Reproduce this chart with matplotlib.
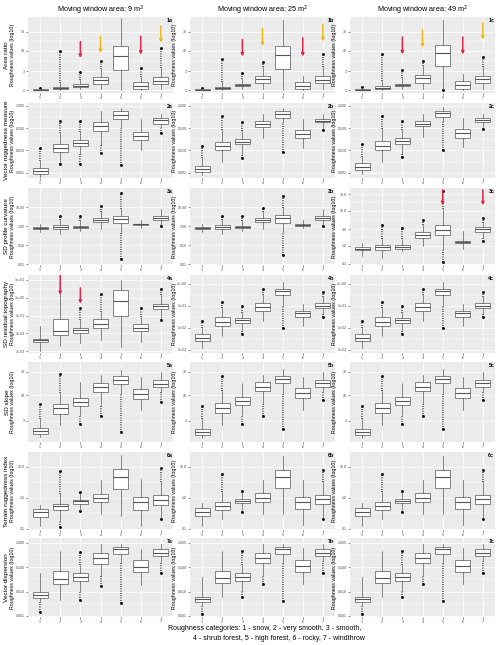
import numpy as np
import matplotlib
matplotlib.use('Agg')
import matplotlib.pyplot as plt

plt.rcParams['font.family'] = ['Liberation Sans', 'DejaVu Sans']

nan = np.nan
categories = [1, 2, 3, 4, 5, 6, 7]

# per box: whisker low, q1, median, q3, whisker high, lowest outlier, highest outlier
area_9 = [(1.0, 1.0, 1.02, 1.05, 1.1, nan, 1.15), (1.0, 1.06, 1.12, 1.2, 1.5, nan, 9.5),
          (1.05, 1.2, 1.3, 1.4, 1.8, nan, 2.8), (1.1, 1.4, 1.85, 2.1, 3.5, nan, 5.3),
          (1.0, 3.3, 7.2, 12.9, 65, nan, nan), (1.0, 1.1, 1.29, 1.57, 2.1, nan, 3.6),
          (1.1, 1.43, 1.73, 2.1, 3.6, nan, 11.7)]
area_25 = [(1.0, 1.0, 1.02, 1.05, 1.1, nan, 1.15), (1.0, 1.07, 1.14, 1.22, 1.6, nan, 6.0),
           (1.05, 1.25, 1.35, 1.45, 1.9, nan, 2.7), (1.1, 1.5, 1.9, 2.3, 3.8, nan, 5.0),
           (1.0, 3.5, 7.5, 13, 60, nan, nan), (1.0, 1.1, 1.3, 1.6, 2.3, nan, nan),
           (1.1, 1.5, 1.85, 2.25, 3.8, nan, 8.0)]
area_49 = [(1.0, 1.0, 1.03, 1.06, 1.12, nan, 1.2), (1.0, 1.08, 1.15, 1.25, 1.7, nan, 8.0),
           (1.05, 1.25, 1.35, 1.45, 2.0, nan, 3.2), (1.1, 1.55, 2.0, 2.4, 4.0, nan, 5.5),
           (1.05, 4.0, 8.5, 14, 60, 1.0, nan), (1.0, 1.1, 1.35, 1.7, 2.5, nan, nan),
           (1.1, 1.55, 1.9, 2.3, 3.8, nan, 7.0)]

vrm_9 = [(0.00065, 0.0009, 0.00123, 0.00166, 0.0035, nan, 0.0123), (0.003, 0.0087, 0.0135, 0.02, 0.058, 0.0024, 0.21),
         (0.0066, 0.0158, 0.0222, 0.031, 0.068, 0.0024, 0.21), (0.017, 0.073, 0.127, 0.19, 0.58, 0.008, nan),
         (0.097, 0.27, 0.41, 0.58, 0.81, 0.0022, nan), (0.0104, 0.029, 0.044, 0.068, 0.27, nan, nan),
         (0.114, 0.16, 0.23, 0.29, 0.45, 0.062, nan)]
vrm_25 = [(0.0008, 0.0011, 0.0015, 0.0021, 0.0044, nan, 0.0163), (0.0029, 0.0107, 0.0154, 0.025, 0.085, nan, 0.37),
          (0.006, 0.019, 0.025, 0.034, 0.077, 0.0045, 0.19), (0.037, 0.11, 0.15, 0.2, 0.44, nan, nan),
          (0.19, 0.3, 0.44, 0.57, 0.8, 0.0085, nan), (0.0126, 0.035, 0.055, 0.085, 0.27, nan, nan),
          (0.107, 0.18, 0.22, 0.27, 0.44, 0.085, nan)]
vrm_49 = [(0.0009, 0.0013, 0.0018, 0.0026, 0.005, nan, 0.02), (0.003, 0.011, 0.016, 0.026, 0.09, nan, 0.35),
          (0.007, 0.02, 0.026, 0.035, 0.08, 0.005, 0.2), (0.04, 0.12, 0.16, 0.21, 0.45, nan, nan),
          (0.2, 0.32, 0.46, 0.6, 0.85, 0.01, nan), (0.014, 0.038, 0.06, 0.09, 0.28, nan, nan),
          (0.11, 0.19, 0.23, 0.28, 0.45, 0.09, nan)]

curv_9 = [(0.5, 0.74, 0.82, 0.93, 1.36, nan, nan), (0.38, 0.68, 0.86, 1.12, 2.15, nan, 3.2),
          (0.56, 0.79, 0.93, 1.04, 1.8, nan, 3.4), (0.68, 1.58, 2.07, 2.6, 5.6, nan, 10.8),
          (0.46, 1.47, 2.4, 3.5, 8.3, 0.018, 56), (0.76, 1.08, 1.21, 1.36, 2.15, nan, nan),
          (1.2, 2.15, 2.7, 3.4, 8.3, 1.0, nan)]
curv_25 = [(0.5, 0.72, 0.8, 0.9, 1.3, nan, nan), (0.4, 0.68, 0.85, 1.1, 2.0, nan, 3.5),
           (0.55, 0.8, 0.92, 1.05, 1.8, nan, 3.2), (0.7, 1.6, 2.1, 2.7, 5.5, nan, 9.0),
           (0.5, 1.5, 2.5, 3.6, 8.5, 0.03, 40), (0.75, 1.05, 1.2, 1.35, 2.1, nan, nan),
           (1.2, 2.1, 2.6, 3.3, 7.5, 1.0, nan)]
curv_49 = [(0.52, 0.76, 0.82, 0.9, 1.19, nan, nan), (0.45, 0.76, 0.9, 1.04, 1.54, nan, 3.8),
           (0.7, 0.81, 0.94, 1.04, 1.54, nan, 3.3), (1.0, 1.71, 2.03, 2.47, 4.0, nan, 5.6),
           (0.8, 2.03, 2.8, 3.9, 11.4, 0.34, 38), (0.8, 1.16, 1.27, 1.38, 2.6, nan, nan),
           (1.7, 2.47, 2.93, 3.4, 4.5, 1.38, 6.2)]

resid_9 = [(0.001, 0.0032, 0.0041, 0.0052, 0.025, nan, nan), (0.002, 0.0078, 0.013, 0.068, 10, nan, nan),
           (0.0028, 0.01, 0.015, 0.021, 0.06, nan, 0.28), (0.0041, 0.0215, 0.036, 0.068, 0.17, nan, 1.67),
           (0.0017, 0.1, 0.68, 2.8, 10, nan, nan), (0.0032, 0.013, 0.021, 0.032, 0.088, nan, 0.28),
           (0.077, 0.25, 0.36, 0.47, 1.47, 0.06, 3.2)]
resid_25 = [(0.0012, 0.0025, 0.0035, 0.005, 0.01, nan, 0.02), (0.004, 0.012, 0.018, 0.03, 0.08, nan, 0.15),
            (0.008, 0.017, 0.022, 0.028, 0.045, 0.005, 0.1), (0.02, 0.06, 0.09, 0.13, 0.3, nan, 0.6),
            (0.1, 0.3, 0.45, 0.6, 1.2, 0.01, nan), (0.012, 0.03, 0.045, 0.06, 0.12, nan, nan),
            (0.04, 0.08, 0.1, 0.13, 0.25, 0.03, 0.4)]
resid_49 = [(0.0012, 0.0025, 0.0035, 0.005, 0.01, nan, 0.02), (0.004, 0.012, 0.018, 0.03, 0.08, nan, 0.15),
            (0.008, 0.017, 0.022, 0.028, 0.045, 0.005, 0.1), (0.02, 0.06, 0.09, 0.13, 0.3, nan, 0.6),
            (0.1, 0.3, 0.45, 0.6, 1.2, 0.01, nan), (0.012, 0.03, 0.045, 0.06, 0.12, nan, nan),
            (0.04, 0.08, 0.1, 0.13, 0.25, 0.03, 0.4)]

slope_9 = [(1.37, 1.6, 1.84, 2.09, 3.3, nan, 6.5), (2.4, 4.2, 5.35, 6.76, 11.2, nan, 27.7),
           (3.9, 6.0, 7.3, 8.8, 18.7, 2.6, nan), (6.2, 11.7, 14.8, 18.2, 25.6, 3.7, nan),
           (10.8, 17.3, 21, 24.4, 33.4, 1.8, nan), (4.9, 8.5, 10.8, 13.7, 23.7, nan, nan),
           (11.7, 14.8, 17.3, 20.4, 30, 7.3, nan)]
slope_25 = [(1.3, 1.5, 1.75, 2.0, 3.2, nan, 6.0), (2.4, 4.3, 5.5, 7.0, 12, nan, 25),
            (3.9, 6.2, 7.5, 9.0, 18, 2.6, nan), (6.5, 12, 15, 18.5, 26, 3.7, nan),
            (11, 17.5, 21.5, 25, 34, 2.0, nan), (5.0, 8.7, 11, 14, 24, nan, nan),
            (12, 15, 17.5, 20.5, 30, 8.0, nan)]
slope_49 = [(1.3, 1.5, 1.75, 2.0, 3.2, nan, 6.0), (2.4, 4.3, 5.5, 7.0, 12, nan, 25),
            (3.9, 6.2, 7.5, 9.0, 18, 2.6, nan), (6.5, 12, 15, 18.5, 26, 3.7, nan),
            (11, 17.5, 21.5, 25, 34, 2.0, nan), (5.0, 8.7, 11, 14, 24, nan, nan),
            (12, 15, 17.5, 20.5, 30, 8.0, nan)]

tri_9 = [(0.117, 0.23, 0.34, 0.44, 0.59, nan, nan), (0.18, 0.39, 0.52, 0.64, 1.35, 0.116, 7.4),
         (0.39, 0.64, 0.76, 0.86, 1.35, 0.36, 1.5), (0.3, 0.72, 0.98, 1.35, 3.67, nan, nan),
         (0.26, 1.97, 4.5, 8.2, 24, nan, nan), (0.125, 0.41, 0.7, 1.05, 3.9, nan, nan),
         (0.22, 0.6, 0.86, 1.19, 3.2, 0.2, 8.8)]
tri_25 = [(0.12, 0.25, 0.35, 0.45, 0.65, nan, nan), (0.2, 0.4, 0.55, 0.7, 1.5, nan, 6.0),
          (0.4, 0.65, 0.78, 0.9, 1.4, 0.35, 1.6), (0.3, 0.75, 1.0, 1.4, 3.8, nan, nan),
          (0.3, 2.0, 4.5, 8.0, 22, nan, nan), (0.13, 0.42, 0.7, 1.05, 3.8, nan, nan),
          (0.22, 0.62, 0.9, 1.2, 3.3, 0.2, 8.0)]
tri_49 = [(0.12, 0.25, 0.35, 0.45, 0.65, nan, nan), (0.2, 0.4, 0.55, 0.7, 1.5, nan, 6.0),
          (0.4, 0.65, 0.78, 0.9, 1.4, 0.35, 1.6), (0.3, 0.75, 1.0, 1.4, 3.8, nan, nan),
          (0.3, 2.0, 4.5, 8.0, 22, nan, nan), (0.13, 0.42, 0.7, 1.05, 3.8, nan, nan),
          (0.22, 0.62, 0.9, 1.2, 3.3, 0.2, 8.0)]

vd_9 = [(0.0041, 0.0055, 0.0073, 0.0098, 0.057, 0.0014, nan), (0.0047, 0.0205, 0.033, 0.067, 0.47, nan, nan),
        (0.0104, 0.026, 0.039, 0.057, 0.124, 0.0047, 0.43), (0.044, 0.137, 0.23, 0.37, 0.88, 0.0165, nan),
        (0.145, 0.34, 0.54, 0.69, 0.88, 0.0035, nan), (0.019, 0.061, 0.1, 0.19, 0.59, nan, nan),
        (0.17, 0.29, 0.39, 0.54, 0.88, 0.057, nan)]
vd_25 = [(0.0028, 0.0036, 0.0048, 0.0062, 0.04, 0.0012, nan), (0.006, 0.022, 0.035, 0.07, 0.45, nan, nan),
         (0.011, 0.028, 0.04, 0.058, 0.13, 0.006, 0.45), (0.05, 0.15, 0.25, 0.38, 0.9, 0.02, nan),
         (0.15, 0.35, 0.55, 0.7, 0.9, 0.004, nan), (0.02, 0.065, 0.11, 0.2, 0.6, nan, nan),
         (0.18, 0.3, 0.4, 0.55, 0.9, 0.06, nan)]
vd_49 = [(0.0028, 0.0036, 0.0048, 0.0062, 0.04, 0.0012, nan), (0.006, 0.022, 0.035, 0.07, 0.45, nan, nan),
         (0.011, 0.028, 0.04, 0.058, 0.13, 0.006, 0.45), (0.05, 0.15, 0.25, 0.38, 0.9, 0.02, nan),
         (0.15, 0.35, 0.55, 0.7, 0.9, 0.004, nan), (0.02, 0.065, 0.11, 0.2, 0.6, nan, nan),
         (0.18, 0.3, 0.4, 0.55, 0.9, 0.06, nan)]

row_names = ['Area ratio', 'Vector ruggedness measure', 'SD profile curvature', 'SD residual topography',
             'SD slope', 'Terrain ruggedness index', 'Vector dispersion']
col_titles = ['Moving window area: 9 m$^2$', 'Moving window area: 25 m$^2$', 'Moving window area: 49 m$^2$']
panels = [[area_9, area_25, area_49], [vrm_9, vrm_25, vrm_49], [curv_9, curv_25, curv_49],
          [resid_9, resid_25, resid_49], [slope_9, slope_25, slope_49], [tri_9, tri_25, tri_49],
          [vd_9, vd_25, vd_49]]

# y axis breaks per panel
ticks = {
    0: [1, 3, 10, 30], 1: [0.001, 0.01, 0.1, 1], 2: [0.01, 0.1, 1, 10],
    4: [3, 10, 30], 5: [0.1, 1, 10], 6: [0.001, 0.01, 0.1, 1]}
labels = {
    0: ['1', '3', '10', '30'], 1: ['0.001', '0.010', '0.100', '1.000'], 2: ['0.01', '0.10', '1.00', '10.00'],
    4: ['3', '10', '30'], 5: ['0.1', '1.0', '10.0'], 6: ['0.001', '0.010', '0.100', '1.000']}
ylims = {0: (0.85, 70), 1: (0.00058, 1.35), 2: (0.009, 100), 4: (1.1, 48), 5: (0.09, 30), 6: (0.0009, 1.6)}
ticks_3c = [0.3, 1, 3, 10, 30]
labels_3c = ['0.3', '1.0', '3.0', '10.0', '30.0']
ticks_4a = [0.001, 0.01, 0.1, 1, 10]
labels_4a = ['1e-03', '1e-02', '1e-01', '1e+00', '1e+01']
ticks_4bc = [0.001, 0.01, 0.1, 1]
labels_4bc = ['1e-03', '1e-02', '1e-01', '1e+00']

# arrows: row, col, category, start, end, colour
arrows = [(0, 0, 3, 16.7, 6.5, 'red'), (0, 0, 4, 23, 8.7, 'gold'), (0, 0, 6, 23, 7.9, 'red'), (0, 0, 7, 42, 15.7, 'gold'),
          (0, 1, 3, 19, 7.1, 'red'), (0, 1, 4, 36, 13, 'gold'), (0, 1, 6, 21, 7.1, 'red'), (0, 1, 7, 46, 17, 'gold'),
          (0, 2, 3, 22, 8, 'red'), (0, 2, 4, 33, 12, 'gold'), (0, 2, 6, 22, 8, 'red'), (0, 2, 7, 50, 19, 'gold'),
          (2, 2, 5, 40, 14.5, 'red'), (2, 2, 7, 40, 14.5, 'red'),
          (3, 0, 2, 18, 1.45, 'red'), (3, 0, 3, 3.6, 0.47, 'red')]
arrow_colors = {'red': '#E0244A', 'gold': '#F2B50F'}

fig = plt.figure(figsize=(5.0, 6.45), dpi=100)
W, H = 500.0, 645.0
col_left = [28, 190, 350]
col_width = 145
row_top = [17, 103, 188, 275, 362, 452, 538]
row_bottom = [93, 178, 265, 353, 442, 530, 617]

for r in range(7):
    for c in range(3):
        ax = fig.add_axes([col_left[c] / W, 1 - row_bottom[r] / H, col_width / W,
                           (row_bottom[r] - row_top[r]) / H])
        ax.set_facecolor('#EBEBEB')
        data = panels[r][c]
        stats = []
        for d in data:
            stats.append(dict(whislo=d[0], q1=d[1], med=d[2], q3=d[3], whishi=d[4], fliers=[]))
        ax.set_yscale('log')
        for i, d in enumerate(data):
            x = categories[i]
            if not np.isnan(d[6]):
                ax.vlines(x, d[4], d[6], colors='#111111', linewidth=1.1, linestyles=(0, (0.5, 1.0)), zorder=2)
                ax.plot([x], [d[6]], 'o', ms=1.1, color='#111111', zorder=2)
            if not np.isnan(d[5]):
                ax.vlines(x, d[5], d[0], colors='#111111', linewidth=1.1, linestyles=(0, (0.5, 1.0)), zorder=2)
                ax.plot([x], [d[5]], 'o', ms=1.1, color='#111111', zorder=2)
        ax.bxp(stats, positions=categories, widths=0.75, patch_artist=True, showfliers=False, showcaps=False,
               boxprops=dict(facecolor='white', edgecolor='#555555', linewidth=0.5),
               medianprops=dict(color='#555555', linewidth=0.8),
               whiskerprops=dict(color='#555555', linewidth=0.5), zorder=3)

        if r == 2 and c == 2:
            tk, lb, yl = ticks_3c, labels_3c, (0.28, 45)
        elif r == 3 and c == 0:
            tk, lb, yl = ticks_4a, labels_4a, (0.0008, 19)
        elif r == 3:
            tk, lb, yl = ticks_4bc, labels_4bc, (0.0007, 2.5)
        else:
            tk, lb, yl = ticks[r], labels[r], ylims[r]
        ax.set_yticks(tk)
        ax.set_yticklabels(lb)
        minor = [np.sqrt(tk[i] * tk[i + 1]) for i in range(len(tk) - 1)]
        ax.set_yticks(minor, minor=True)
        ax.set_ylim(yl)
        ax.set_xlim(0.4, 7.6)
        ax.set_xticks(categories)
        ax.set_xticklabels([str(k) for k in categories])
        ax.grid(True, which='major', color='white', linewidth=0.6)
        ax.grid(True, which='minor', axis='y', color='white', linewidth=0.3)
        ax.set_axisbelow(True)
        ax.tick_params(axis='both', which='major', labelsize=2.6, length=1.5, width=0.4, color='#333333',
                       labelcolor='#4D4D4D', pad=0.8)
        ax.tick_params(axis='y', which='minor', length=0, labelleft=False)
        for s in ax.spines.values():
            s.set_visible(False)
        ax.set_ylabel('Roughness values (log10)', fontsize=3.8)
        ax.yaxis.set_label_coords(-0.088, 0.5)
        ax.text(0.995, 0.985, f'{r + 1}{"abc"[c]}', transform=ax.transAxes, ha='right', va='top',
                fontsize=3.8, fontweight='bold')
        if r == 0:
            ax.set_title(col_titles[c], fontsize=5.2, pad=3)
        if c == 0:
            yc = 1 - (row_top[r] + row_bottom[r]) / 2 / H
            fig.text(7 / W, yc, row_names[r], rotation=90, ha='center', va='center', fontsize=4.6)
        for a in arrows:
            if a[0] == r and a[1] == c:
                ax.annotate('', xy=(a[2], a[4]), xytext=(a[2], a[3]),
                            arrowprops=dict(arrowstyle='-|>', color=arrow_colors[a[5]], lw=1.1,
                                            mutation_scale=4, shrinkA=0, shrinkB=0), zorder=5)

fig.text(168 / W, 1 - 628 / H, 'Roughness categories: 1 - snow, 2 - very smooth, 3 - smooth,',
         fontsize=5.0, ha='left', va='center')
fig.text(193 / W, 1 - 639 / H, '4 - shrub forest, 5 - high forest, 6 - rocky, 7 - windthrow',
         fontsize=5.0, ha='left', va='center')

fig.savefig('out.png', dpi=100, facecolor='white')
